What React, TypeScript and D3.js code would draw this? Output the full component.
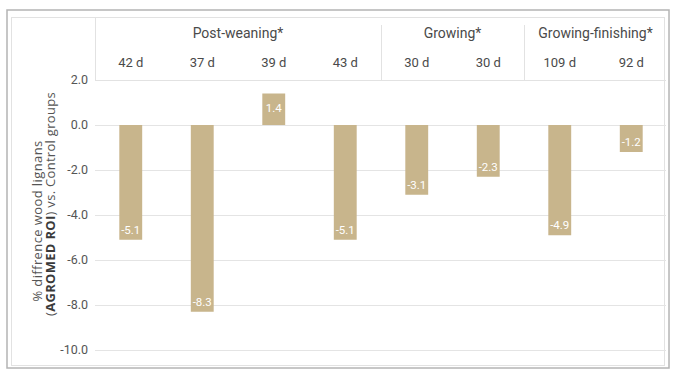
import React from "react";
import * as d3 from "d3";

const groups = ["Post-weaning*", "Growing*", "Growing-finishing*"];
const groupSizes = [4, 2, 2];
const categories = ["42 d", "37 d", "39 d", "43 d", "30 d", "30 d", "109 d", "92 d"];
const values = [-5.1, -8.3, 1.4, -5.1, -3.1, -2.3, -4.9, -1.2];
const yTicks = [2, 0, -2, -4, -6, -8, -10];

const W = 676, H = 371;
const FONT = "'Roboto', sans-serif";
const LFONT = "'Open Sans', sans-serif";

export default function App() {
  const x = d3.scaleBand<number>().domain(d3.range(categories.length)).range([95, 667]).paddingInner(0.68).paddingOuter(0.34);
  const y = d3.scaleLinear().domain([-10, 2]).range([350, 80]);
  const step = x.step();
  const x0 = 95;
  let acc = 0;
  const groupSpans = groups.map((g, i) => {
    const s = acc; acc += groupSizes[i];
    return { g, start: x0 + s * step, end: x0 + acc * step };
  });
  const color = "#c8b58c";
  return (
    <div style={{ position: "absolute", left: 0, top: 0 }}>
      <svg width={W} height={H} style={{ display: "block", background: "#fff" }}>
        <rect x={7} y={10} width={662} height={358} fill="none" stroke="#b4b4b4" strokeWidth={1.5} />
        <rect x={11.5} y={17.5} width={653} height={348} fill="none" stroke="#e2e2e2" strokeWidth={1} />
        {/* header */}
        <line x1={95.5} x2={95.5} y1={18} y2={80} stroke="#e2e2e2" />
        <line x1={95} x2={666} y1={80.5} y2={80.5} stroke="#e2e2e2" />
        {groupSpans.slice(1).map((s, i) => (
          <line key={i} x1={Math.round(s.start) + 0.5} x2={Math.round(s.start) + 0.5} y1={25} y2={80} stroke="#e2e2e2" />
        ))}
        {groupSpans.map((s, i) => (
          <text key={i} x={(s.start + s.end) / 2} y={38} textAnchor="middle" fontFamily={FONT} fontSize={14} fill="#4a4a4a">{s.g}</text>
        ))}
        {categories.map((c, i) => (
          <text key={i} x={(x(i) ?? 0) + x.bandwidth() / 2} y={67} textAnchor="middle" fontFamily={FONT} fontSize={13} fill="#4a4a4a">{c}</text>
        ))}
        {/* grid */}
        {yTicks.map((t) => (
          <g key={t}>
            {t !== 2 && <line x1={95} x2={666} y1={Math.round(y(t)) + 0.5} y2={Math.round(y(t)) + 0.5} stroke="#e4e4e4" />}
            <text x={88} y={y(t) + 4} textAnchor="end" fontFamily={FONT} fontSize={12.5} fill="#555">{t.toFixed(1)}</text>
          </g>
        ))}
        {/* bars */}
        {values.map((v, i) => {
          const bx = x(i) ?? 0;
          const top = y(Math.max(0, v));
          const bot = y(Math.min(0, v));
          const ly = v < 0 ? bot - 10 : top + 14;
          return (
            <g key={i}>
              <rect x={bx} y={top} width={x.bandwidth()} height={bot - top} fill={color} />
              <text x={bx + x.bandwidth() / 2} y={ly + 4} textAnchor="middle" fontFamily={FONT} fontSize={11.5} fill="#fff">{v.toFixed(1)}</text>
            </g>
          );
        })}
        {/* y label */}
        <text transform="translate(42, 221) rotate(-90)" textAnchor="middle" fontFamily={LFONT} fontSize={13} letterSpacing={0.4} fill="#555">% diffrence wood lignans</text>
        <text transform="translate(55, 204) rotate(-90)" textAnchor="middle" fontFamily={LFONT} fontSize={13} letterSpacing={0.3} fill="#555">
          (<tspan fontWeight="bold" fill="#3a3a3a">AGROMED ROI</tspan>) vs. Control groups
        </text>
      </svg>
    </div>
  );
}
